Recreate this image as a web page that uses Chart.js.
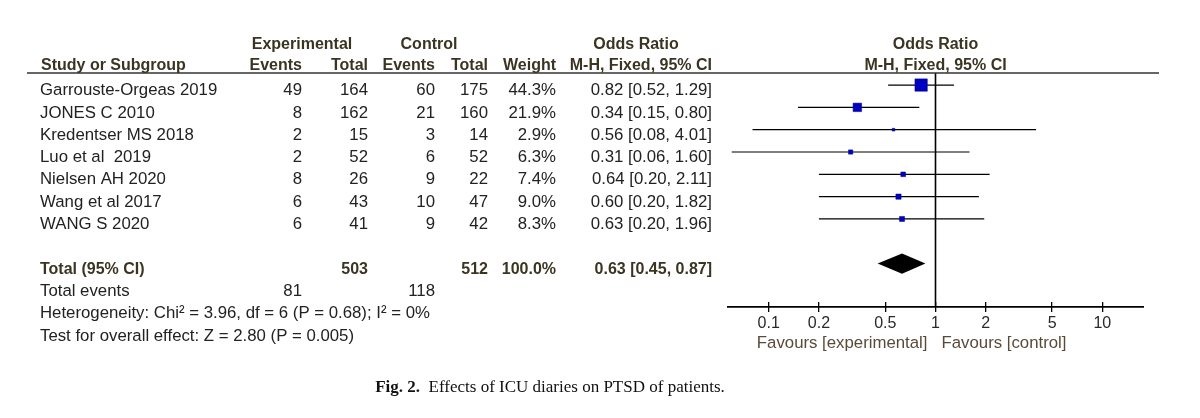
<!DOCTYPE html>
<html>
<head>
<meta charset="utf-8">
<script src="https://cdn.jsdelivr.net/npm/chart.js@4"></script>
<style>
  html, body { margin: 0; padding: 0; background: #fff; }
</style>
</head>
<body>
<canvas id="forest" width="1200" height="418"></canvas>
<script>
const studies = ["Garrouste-Orgeas 2019", "JONES C 2010", "Kredentser MS 2018", "Luo et al  2019",
                 "Nielsen AH 2020", "Wang et al 2017", "WANG S 2020"];
const expEvents = [49, 8, 2, 2, 8, 6, 6];
const expTotal = [164, 162, 15, 52, 26, 43, 41];
const ctrlEvents = [60, 21, 3, 6, 9, 10, 9];
const ctrlTotal = [175, 160, 14, 52, 22, 47, 42];
const weights = [44.3, 21.9, 2.9, 6.3, 7.4, 9.0, 8.3];
const oddsRatio = [0.82, 0.34, 0.56, 0.31, 0.64, 0.60, 0.63];
const ciLow = [0.52, 0.15, 0.08, 0.06, 0.20, 0.20, 0.20];
const ciHigh = [1.29, 0.80, 4.01, 1.60, 2.11, 1.82, 1.96];
const pooled = [0.63, 0.45, 0.87];   // OR, lower, upper
const totals = [503, 512];           // experimental, control
const totalWeight = 100.0;
const totalEvents = [81, 118];
const xTicks = [0.1, 0.2, 0.5, 1, 2, 5, 10];

const SANS = "'Liberation Sans', Arial, sans-serif";
const SERIF = "'Liberation Serif', 'Times New Roman', serif";
const xMin = Math.pow(10, -1.25), xMax = Math.pow(10, 1.25);
const topRow = -0.54, axisRow = 9.94, pooledRow = 8;

function fmtCI(o, l, h) {
    return o.toFixed(2) + " [" + l.toFixed(2) + ", " + h.toFixed(2) + "]";
}

const ciSets = studies.map((s, i) => ({
    label: s,
    data: [{x: ciLow[i], y: i}, {x: ciHigh[i], y: i}],
    showLine: true,
    borderColor: "#000",
    borderWidth: 1.2,
    pointRadius: 0,
    order: 2
}));

const diamondPlugin = {
    id: "diamond",
    afterDatasetsDraw(chart) {
        const ctx = chart.ctx, x = chart.scales.x, y = chart.scales.y;
        const h = 0.45;
        ctx.save();
        ctx.beginPath();
        ctx.moveTo(x.getPixelForValue(pooled[1]), y.getPixelForValue(pooledRow));
        ctx.lineTo(x.getPixelForValue(pooled[0]), y.getPixelForValue(pooledRow - h));
        ctx.lineTo(x.getPixelForValue(pooled[2]), y.getPixelForValue(pooledRow));
        ctx.lineTo(x.getPixelForValue(pooled[0]), y.getPixelForValue(pooledRow + h));
        ctx.closePath();
        ctx.fillStyle = "#000";
        ctx.fill();
        ctx.restore();
    }
};

const tablePlugin = {
    id: "forestTable",
    afterDraw(chart) {
        const ctx = chart.ctx, x = chart.scales.x, y = chart.scales.y;
        const rowY = r => y.getPixelForValue(r) + 5.5;
        const body = "16.8px " + SANS, bold = "bold 16px " + SANS;
        const head = "#3a3522", ink = "#222";
        function put(t, px, r, align, font, color) {
            ctx.font = font;
            ctx.fillStyle = color;
            ctx.textAlign = align;
            ctx.fillText(t, px, rowY(r));
        }
        ctx.save();
        ctx.textBaseline = "middle";

        // header rule
        ctx.strokeStyle = "#333";
        ctx.lineWidth = 1.5;
        ctx.beginPath();
        ctx.moveTo(27, chart.chartArea.top);
        ctx.lineTo(1159, chart.chartArea.top);
        ctx.stroke();

        // headers
        const xOne = x.getPixelForValue(1);
        const h1 = -2.07, h2 = -1.12;
        put("Experimental", 302, h1, "center", bold, head);
        put("Control", 429, h1, "center", bold, head);
        put("Odds Ratio", 636, h1, "center", bold, head);
        put("Odds Ratio", xOne, h1, "center", bold, head);
        put("Study or Subgroup", 41, h2, "left", bold, head);
        put("Events", 302, h2, "right", bold, head);
        put("Total", 368, h2, "right", bold, head);
        put("Events", 435, h2, "right", bold, head);
        put("Total", 488, h2, "right", bold, head);
        put("Weight", 556, h2, "right", bold, head);
        put("M-H, Fixed, 95% CI", 712, h2, "right", bold, head);
        put("M-H, Fixed, 95% CI", xOne, h2, "center", bold, head);

        // study rows
        studies.forEach((s, i) => {
            put(s, 40, i, "left", body, ink);
            put(String(expEvents[i]), 302, i, "right", body, ink);
            put(String(expTotal[i]), 368, i, "right", body, ink);
            put(String(ctrlEvents[i]), 435, i, "right", body, ink);
            put(String(ctrlTotal[i]), 488, i, "right", body, ink);
            put(weights[i].toFixed(1) + "%", 556, i, "right", body, ink);
            put(fmtCI(oddsRatio[i], ciLow[i], ciHigh[i]), 712, i, "right", body, ink);
        });

        // totals
        put("Total (95% CI)", 40, 8, "left", bold, head);
        put(String(totals[0]), 368, 8, "right", bold, head);
        put(String(totals[1]), 488, 8, "right", bold, head);
        put(totalWeight.toFixed(1) + "%", 556, 8, "right", bold, head);
        put(fmtCI(pooled[0], pooled[1], pooled[2]), 712, 8, "right", bold, head);
        put("Total events", 40, 9, "left", body, ink);
        put(String(totalEvents[0]), 302, 9, "right", body, ink);
        put(String(totalEvents[1]), 435, 9, "right", body, ink);
        put("Heterogeneity: Chi\u00b2 = 3.96, df = 6 (P = 0.68); I\u00b2 = 0%", 40, 10, "left", body, ink);
        put("Test for overall effect: Z = 2.80 (P = 0.005)", 40, 11, "left", body, ink);

        // favours labels
        ctx.font = "16.8px " + SANS;
        ctx.fillStyle = "#5a4a38";
        ctx.textAlign = "right";
        ctx.fillText("Favours [experimental]", xOne - 8, 343);
        ctx.textAlign = "left";
        ctx.fillText("Favours [control]", xOne + 6, 343);

        // caption
        const c1 = "Fig. 2.", c2 = "  Effects of ICU diaries on PTSD of patients.";
        ctx.font = "bold 17px " + SERIF;
        const w1 = ctx.measureText(c1).width;
        ctx.font = "17px " + SERIF;
        const w2 = ctx.measureText(c2).width;
        const cx = 550 - (w1 + w2) / 2;
        ctx.fillStyle = "#111";
        ctx.textAlign = "left";
        ctx.font = "bold 17px " + SERIF;
        ctx.fillText(c1, cx, 388);
        ctx.font = "17px " + SERIF;
        ctx.fillText(c2, cx + w1, 388);
        ctx.restore();
    }
};

new Chart(document.getElementById("forest"), {
    type: "scatter",
    data: {
        datasets: [
            {
                label: "Studies",
                data: studies.map((s, i) => ({x: oddsRatio[i], y: i})),
                pointStyle: "rect",
                pointRadius: weights.map(w => (1.95 * Math.sqrt(w) - 0.6) / Math.SQRT2),
                backgroundColor: "#0000c0",
                borderColor: "#00008b",
                borderWidth: 0.5,
                order: 0
            },
            ...ciSets,
            {
                label: "no effect",
                data: [{x: 1, y: topRow}, {x: 1, y: axisRow}],
                showLine: true,
                borderColor: "#000",
                borderWidth: 1.6,
                pointRadius: 0,
                clip: false,
                order: 3
            },
            {
                label: "axis",
                data: [{x: xMin, y: axisRow}, {x: xMax, y: axisRow}],
                showLine: true,
                borderColor: "#000",
                borderWidth: 1.6,
                pointRadius: 0,
                clip: false,
                order: 3
            }
        ]
    },
    options: {
        responsive: false,
        animation: false,
        layout: { padding: { left: 727, right: 56, top: 73, bottom: 86 } },
        plugins: { legend: { display: false }, tooltip: { enabled: false } },
        scales: {
            x: {
                type: "logarithmic",
                min: xMin,
                max: xMax,
                afterBuildTicks: s => { s.ticks = xTicks.map(v => ({ value: v })); },
                afterFit: s => { s.height = 30; },
                border: { display: false },
                grid: { drawOnChartArea: false, drawTicks: true, tickLength: 10, color: "#000", lineWidth: 1.3 },
                ticks: {
                    autoSkip: false,
                    maxRotation: 0,
                    padding: 2,
                    color: "#2a2a2a",
                    font: { family: SANS, size: 16 },
                    callback: v => String(v)
                }
            },
            y: {
                type: "linear",
                reverse: true,
                min: topRow,
                max: 9.72,
                display: false
            }
        }
    },
    plugins: [diamondPlugin, tablePlugin]
});
</script>
</body>
</html>
